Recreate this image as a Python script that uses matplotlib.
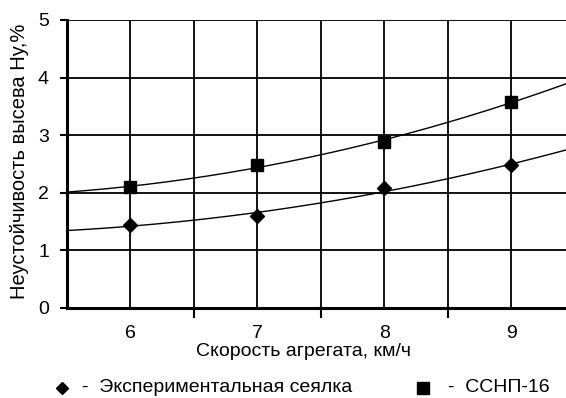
import numpy as np
import matplotlib
matplotlib.use("Agg")
import matplotlib.pyplot as plt
from matplotlib.lines import Line2D

# data
speed = [6, 7, 8, 9]
exp_seeder = [1.44, 1.60, 2.08, 2.48]
ssnp16 = [2.10, 2.48, 2.88, 3.58]

x_ticks = [6, 7, 8, 9]
y_ticks = [0, 1, 2, 3, 4, 5]

plt.rcParams["font.family"] = ["Liberation Sans", "DejaVu Sans"]

fig = plt.figure(figsize=(5.66, 3.98), dpi=100)
ax = fig.add_axes([67 / 566, 90 / 398, 1 - 67 / 566, 288 / 398])

x_min, x_max = 5.5, 9.43
xs = np.linspace(x_min, x_max, 200)

# trend lines (2nd order polynomial through points)
for vals in (exp_seeder, ssnp16):
    c = np.polyfit(speed, vals, 2)
    ax.plot(xs, np.polyval(c, xs), color="black", lw=1.0, zorder=3)

ax.plot(speed, exp_seeder, ls="none", marker="D", ms=7, color="black", zorder=4)
ax.plot(speed, ssnp16, ls="none", marker="s", ms=9, color="black", zorder=4)

ax.set_xlim(x_min, x_max)
ax.set_ylim(0, 5)

ax.set_xticks(x_ticks)
ax.set_xticks([6.5, 7.5, 8.5], minor=True)
ax.set_yticks(y_ticks)
ax.tick_params(axis="x", which="major", length=0, labelsize=14, pad=12)
ax.tick_params(axis="x", which="minor", length=7, width=1.5, direction="out")
ax.tick_params(axis="y", length=5, width=1.5, labelsize=14, pad=8)

ax.grid(True, which="both", color="black", lw=1.3)
ax.set_axisbelow(True)

for side in ("top", "right"):
    ax.spines[side].set_visible(False)
for side in ("left", "bottom"):
    ax.spines[side].set_linewidth(2.2)
    ax.spines[side].set_zorder(5)

fig.text(304 / 566, 1 - 352 / 398, "Скорость агрегата, км/ч",
         ha="center", va="center", fontsize=14)
fig.text(20 / 566, 1 - 161 / 398, "Неустойчивость высева Hу,%",
         ha="center", va="center", rotation=90, fontsize=14.5)

# legend under the chart
ly = 1 - 388 / 398
fig.add_artist(Line2D([62 / 566], [ly], marker="D", ms=6, color="black",
                      ls="none", transform=fig.transFigure))
fig.text(82 / 566, ly, "-  Экспериментальная сеялка", ha="left", va="center",
         fontsize=14)
fig.add_artist(Line2D([423 / 566], [ly], marker="s", ms=8, color="black",
                      ls="none", transform=fig.transFigure))
fig.text(448 / 566, ly, "-  ССНП-16", ha="left", va="center", fontsize=14)

fig.savefig("out.png", dpi=100)
